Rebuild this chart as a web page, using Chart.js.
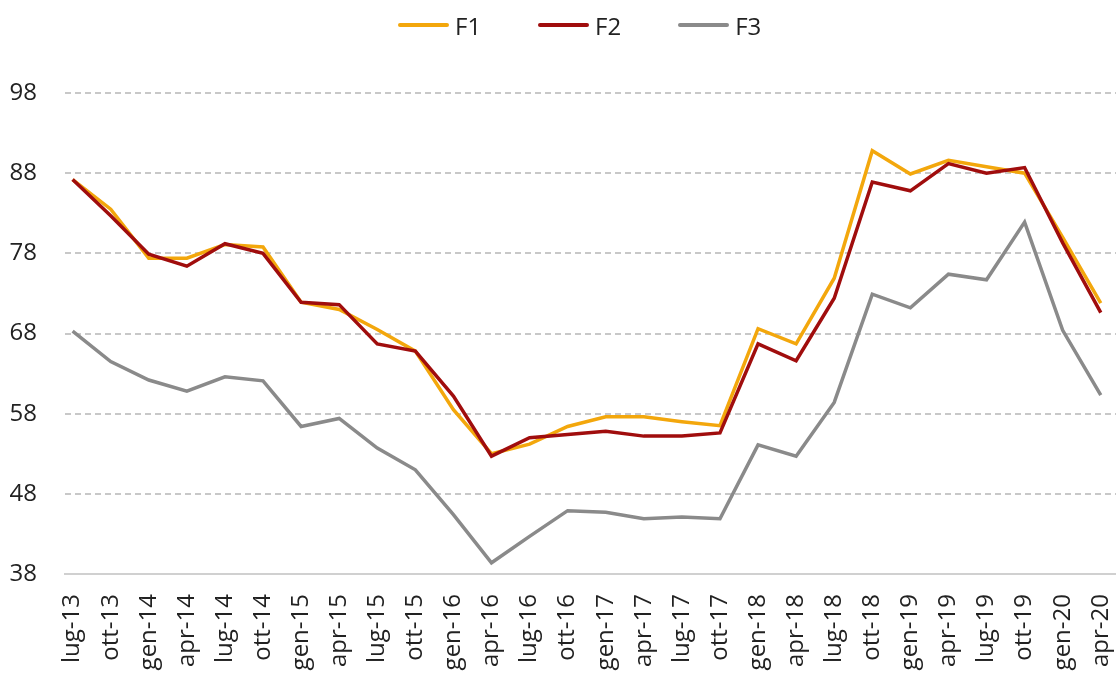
<!DOCTYPE html>
<html>
<head>
<meta charset="utf-8">
<title>F1 F2 F3</title>
<script src="https://cdn.jsdelivr.net/npm/chart.js@4/dist/chart.umd.min.js"></script>
<style>
  html, body { margin: 0; padding: 0; background: #fff; }
  #wrap { position: relative; width: 1116px; height: 675px; overflow: hidden; }
  #legend { position: absolute; top: 10px; left: 398px; display: flex; align-items: center; height: 30px;
            font-family: 'Open Sans', sans-serif; font-size: 24px; color: #222; }
  #legend .item { display: flex; align-items: center; margin-right: 57px; }
  #legend .swatch { width: 51px; height: 4px; border-radius: 2px; margin-right: 6px; }
</style>
</head>
<body>
<div id="wrap">
  <canvas id="chart" width="1116" height="675"></canvas>
  <div id="legend"></div>
</div>
<script>
// periodi trimestrali
const periods = ['lug-13', 'ott-13', 'gen-14', 'apr-14', 'lug-14', 'ott-14', 'gen-15', 'apr-15',
  'lug-15', 'ott-15', 'gen-16', 'apr-16', 'lug-16', 'ott-16', 'gen-17', 'apr-17', 'lug-17', 'ott-17',
  'gen-18', 'apr-18', 'lug-18', 'ott-18', 'gen-19', 'apr-19', 'lug-19', 'ott-19', 'gen-20', 'apr-20'];

const f1Values = [87.2, 83.5, 77.4, 77.4, 79.1, 78.8, 71.9, 71.0, 68.5, 65.8, 58.5, 53.0, 54.2, 56.4,
  57.6, 57.6, 57.0, 56.5, 68.6, 66.7, 74.9, 90.8, 87.9, 89.6, 88.8, 88.0, 80.0, 71.8];
const f2Values = [87.2, 82.7, 77.9, 76.4, 79.2, 78.0, 71.9, 71.6, 66.7, 65.8, 60.2, 52.7, 55.0, 55.4,
  55.8, 55.2, 55.2, 55.6, 66.7, 64.6, 72.4, 86.9, 85.8, 89.2, 88.0, 88.7, 79.3, 70.6];
const f3Values = [68.3, 64.5, 62.2, 60.8, 62.6, 62.1, 56.4, 57.4, 53.7, 51.0, 45.4, 39.4, 42.7, 45.9,
  45.7, 44.9, 45.1, 44.9, 54.1, 52.7, 59.4, 72.9, 71.2, 75.4, 74.7, 81.9, 68.4, 60.3];

const yTicks = [38, 48, 58, 68, 78, 88, 98];

const seriesNames = ['F1', 'F2', 'F3'];
const seriesColors = ['#F3A70C', '#A00D0D', '#8A8A8A'];

const FONT = "'Open Sans', sans-serif";
const TEXT_COLOR = '#222222';

function toPoints(values) {
  return values.map((v, i) => ({ x: i, y: v }));
}

const datasets = [f1Values, f2Values, f3Values].map((values, i) => ({
  label: seriesNames[i],
  data: toPoints(values),
  borderColor: seriesColors[i],
  backgroundColor: seriesColors[i],
  borderWidth: 3.5,
  pointRadius: 0,
  tension: 0,
  fill: false
}));

// ordine di disegno: F3 sotto, poi F1, F2 sopra
datasets[0].order = 2;
datasets[1].order = 1;
datasets[2].order = 3;

const chart = new Chart(document.getElementById('chart'), {
  type: 'line',
  data: { datasets },
  options: {
    responsive: false,
    animation: false,
    layout: { padding: { top: 93, right: 0, bottom: 0, left: 0 } },
    plugins: {
      legend: { display: false },
      tooltip: { enabled: false }
    },
    scales: {
      x: {
        type: 'linear',
        min: -0.2,
        max: 27.4,
        afterBuildTicks: (scale) => { scale.ticks = periods.map((_, i) => ({ value: i })); },
        afterFit: (scale) => {
          scale.height = 101;
          scale.paddingLeft = 0;
          scale.paddingRight = 0;
        },
        grid: { display: false, drawTicks: false },
        border: { display: true, color: '#D0D0D0', width: 2 },
        ticks: {
          autoSkip: false,
          maxRotation: 90,
          minRotation: 90,
          padding: 20,
          color: TEXT_COLOR,
          font: { family: FONT, size: 24 },
          callback: (value) => periods[value]
        }
      },
      y: {
        min: 38,
        max: 98,
        afterBuildTicks: (scale) => { scale.ticks = yTicks.map(v => ({ value: v })); },
        afterFit: (scale) => { scale.width = 65; },
        grid: { color: '#C8C8C8', lineWidth: 2, drawTicks: false },
        border: { display: false, dash: [6, 4] },
        ticks: {
          padding: 28,
          color: TEXT_COLOR,
          font: { family: FONT, size: 24 }
        }
      }
    }
  }
});

// legenda html a partire dai dataset
const legendEl = document.getElementById('legend');
chart.data.datasets.forEach(ds => {
  const item = document.createElement('div');
  item.className = 'item';
  const swatch = document.createElement('span');
  swatch.className = 'swatch';
  swatch.style.background = ds.borderColor;
  const label = document.createElement('span');
  label.textContent = ds.label;
  item.appendChild(swatch);
  item.appendChild(label);
  legendEl.appendChild(item);
});
</script>
</body>
</html>
